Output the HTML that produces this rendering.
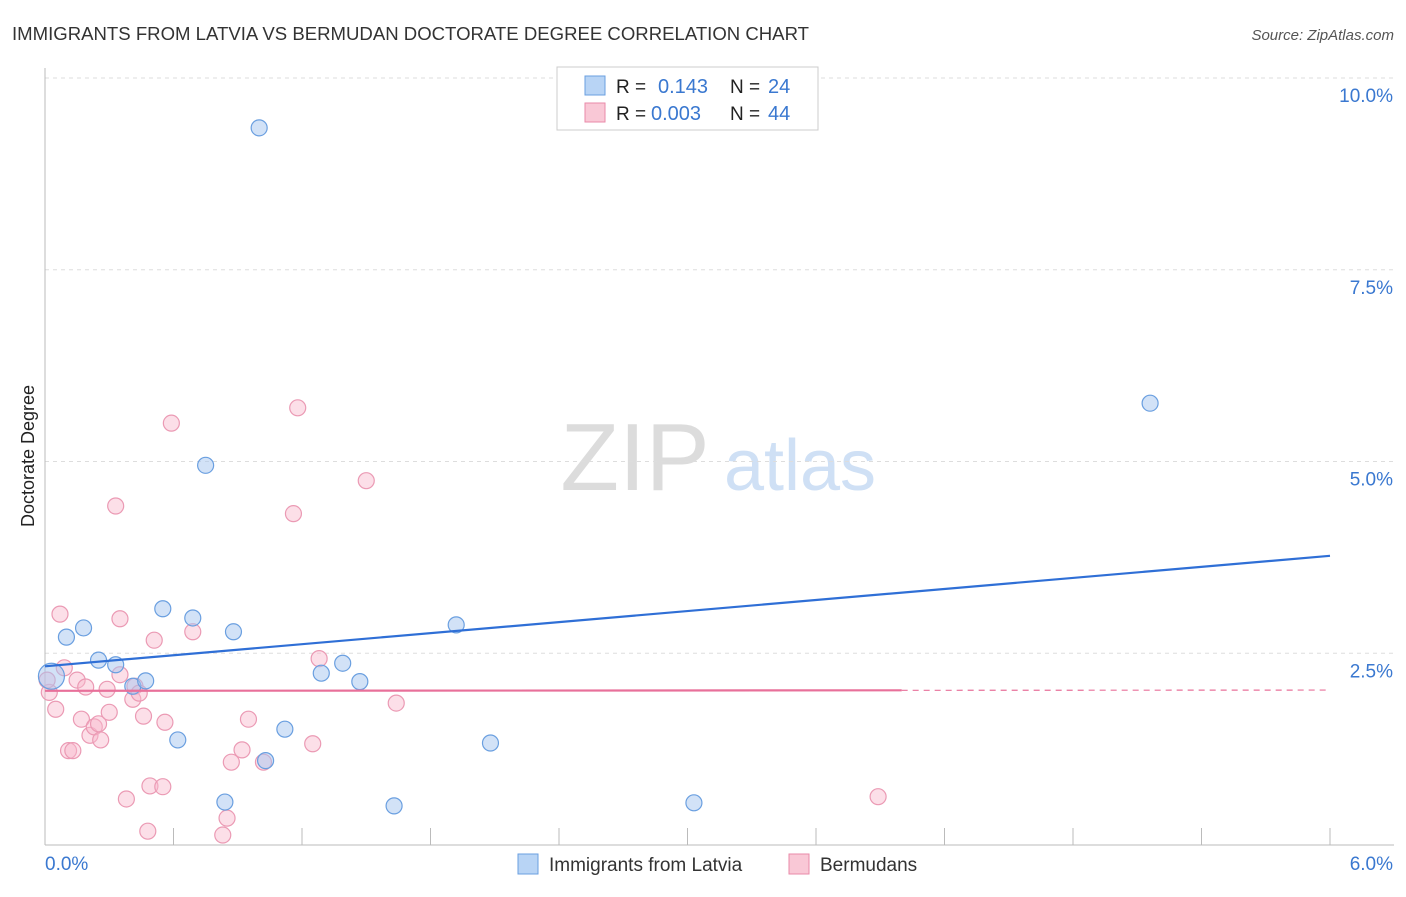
<!DOCTYPE html>
<html><head><meta charset="utf-8"><style>
body{margin:0;background:#fff;font-family:"Liberation Sans",sans-serif;}
svg text{font-family:"Liberation Sans",sans-serif;}
</style></head><body>
<svg id="chart" width="1406" height="892" viewBox="0 0 1406 892">
<text x="12" y="40" font-size="18" fill="#333" textLength="797" lengthAdjust="spacingAndGlyphs">IMMIGRANTS FROM LATVIA VS BERMUDAN DOCTORATE DEGREE CORRELATION CHART</text>
<text x="1394" y="40" font-size="15" fill="#555" font-style="italic" text-anchor="end">Source: ZipAtlas.com</text>
<text x="34" y="456" font-size="18" fill="#222" text-anchor="middle" transform="rotate(-90 34 456)">Doctorate Degree</text>
<g>
<text x="635" y="490" font-size="96" fill="#dcdcdc" font-family="Liberation Serif" text-anchor="middle">ZIP</text>
<text x="800" y="490" font-size="72" fill="#cfe0f5" text-anchor="middle">atlas</text>
</g>
<g id="grid"></g><g id="axes"></g><g id="marks"></g>
<g>
<rect x="557" y="67" width="261" height="63" fill="#fff" stroke="#ccc"/>
<rect x="585" y="76" width="20" height="19" fill="#b8d4f5" stroke="#6a9fe0"/>
<rect x="585" y="103" width="20" height="19" fill="#f9c8d6" stroke="#e98aa8"/>
<text x="616" y="93" font-size="19" fill="#222">R = </text><text x="658" y="93" font-size="20" fill="#3a78d0">0.143</text>
<text x="730" y="93" font-size="19" fill="#222">N = </text><text x="768" y="93" font-size="20" fill="#3a78d0">24</text>
<text x="616" y="120" font-size="19" fill="#222">R = </text><text x="651" y="120" font-size="20" fill="#3a78d0">0.003</text>
<text x="730" y="120" font-size="19" fill="#222">N = </text><text x="768" y="120" font-size="20" fill="#3a78d0">44</text>
</g>
<g>
<rect x="518" y="854" width="20" height="20" fill="#b8d4f5" stroke="#6a9fe0"/>
<text x="549" y="871" font-size="19" fill="#333">Immigrants from Latvia</text>
<rect x="789" y="854" width="20" height="20" fill="#f9c8d6" stroke="#e98aa8"/>
<text x="820" y="871" font-size="19" fill="#333">Bermudans</text>
</g>
</svg>
<script>
const blueX=[0.03,0.10,0.18,0.25,0.33,0.41,0.47,0.55,0.62,0.69,0.75,0.84,0.88,1.00,1.03,1.12,1.29,1.39,1.47,1.63,1.92,2.08,3.03,5.16];
const blueY=[2.20,2.71,2.83,2.41,2.35,2.07,2.14,3.08,1.37,2.96,4.95,0.56,2.78,9.35,1.10,1.51,2.24,2.37,2.13,0.51,2.87,1.33,0.55,5.76];
const pinkX=[0.02,0.05,0.07,0.09,0.11,0.13,0.15,0.17,0.19,0.21,0.23,0.25,0.26,0.29,0.30,0.33,0.35,0.35,0.38,0.41,0.42,0.44,0.46,0.48,0.49,0.51,0.55,0.56,0.59,0.69,0.83,0.85,0.87,0.92,0.95,1.02,1.16,1.18,1.25,1.28,1.50,1.64,3.89,0.01];
const pinkY=[1.99,1.77,3.01,2.31,1.23,1.23,2.15,1.64,2.06,1.43,1.54,1.58,1.37,2.03,1.73,4.42,2.22,2.95,0.60,1.90,2.07,1.98,1.68,0.18,0.77,2.67,0.76,1.60,5.50,2.78,0.13,0.35,1.08,1.24,1.64,1.08,4.32,5.70,1.32,2.43,4.75,1.85,0.63,2.15];
const yTicks=[2.5,5.0,7.5,10.0];
const blueTrend=[2.33,3.77];
const pinkTrend=[2.01,2.02];
const pinkSolidEnd=4.0;
const X0=45,X1=1330,Y0=845,PXPER=76.7;
const sx=v=>X0+v/6*(X1-X0), sy=v=>Y0-v*PXPER;
const NS="http://www.w3.org/2000/svg";
function mk(tag,attrs,parent){const e=document.createElementNS(NS,tag);for(const k in attrs)e.setAttribute(k,attrs[k]);document.getElementById(parent).appendChild(e);return e;}
yTicks.forEach(t=>{
 const l=mk('line',{x1:X0,x2:1394,y1:sy(t),y2:sy(t),stroke:'#ddd','stroke-dasharray':'4,4'},'grid');
 
 
 const tx=mk('text',{x:1393,y:sy(t)+24,'font-size':19,fill:'#3a78d0','text-anchor':'end'},'grid');
 tx.textContent=t.toFixed(1)+'%';
 
 
});
const ya=mk('line',{x1:X0,x2:X0,y1:68,y2:Y0,stroke:'#bbb'},'axes');


const xa=mk('line',{x1:X0,x2:1394,y1:Y0,y2:Y0,stroke:'#bbb'},'axes');


for(let i=0;i<=10;i++){const t=mk('line',{x1:sx(i*0.6),x2:sx(i*0.6),y1:Y0,y2:828,stroke:'#bbb'},'axes');
 
 }
const xl0=mk('text',{x:45,y:870,'font-size':19,fill:'#3a78d0'},'axes');xl0.textContent='0.0%';


const xl1=mk('text',{x:1393,y:870,'font-size':19,fill:'#3a78d0','text-anchor':'end'},'axes');xl1.textContent='6.0%';


pinkX.forEach((x,i)=>{const c=mk('circle',{cx:sx(x),cy:sy(pinkY[i]),r:8,fill:'rgba(248,185,205,0.45)',stroke:'#eb9ab4','stroke-width':1.2},'marks');
 
 });
blueX.forEach((x,i)=>{const c=mk('circle',{cx:sx(x),cy:sy(blueY[i]),r:i===0?13:8,fill:'rgba(165,198,240,0.5)',stroke:'#6a9fe0','stroke-width':1.2},'marks');
 
 });
const bt=mk('line',{x1:sx(0),y1:sy(blueTrend[0]),x2:sx(6),y2:sy(blueTrend[1]),stroke:'#2f6fd6','stroke-width':2.2},'marks');


const pm=pinkTrend[0]+(pinkTrend[1]-pinkTrend[0])*pinkSolidEnd/6;
const pt=mk('line',{x1:sx(0),y1:sy(pinkTrend[0]),x2:sx(pinkSolidEnd),y2:sy(pm),stroke:'#e8709a','stroke-width':2.2},'marks');


const pd=mk('line',{x1:sx(pinkSolidEnd),y1:sy(pm),x2:sx(6),y2:sy(pinkTrend[1]),stroke:'#e8709a','stroke-width':1.2,'stroke-dasharray':'6,5'},'marks');


</script>
</body></html>
